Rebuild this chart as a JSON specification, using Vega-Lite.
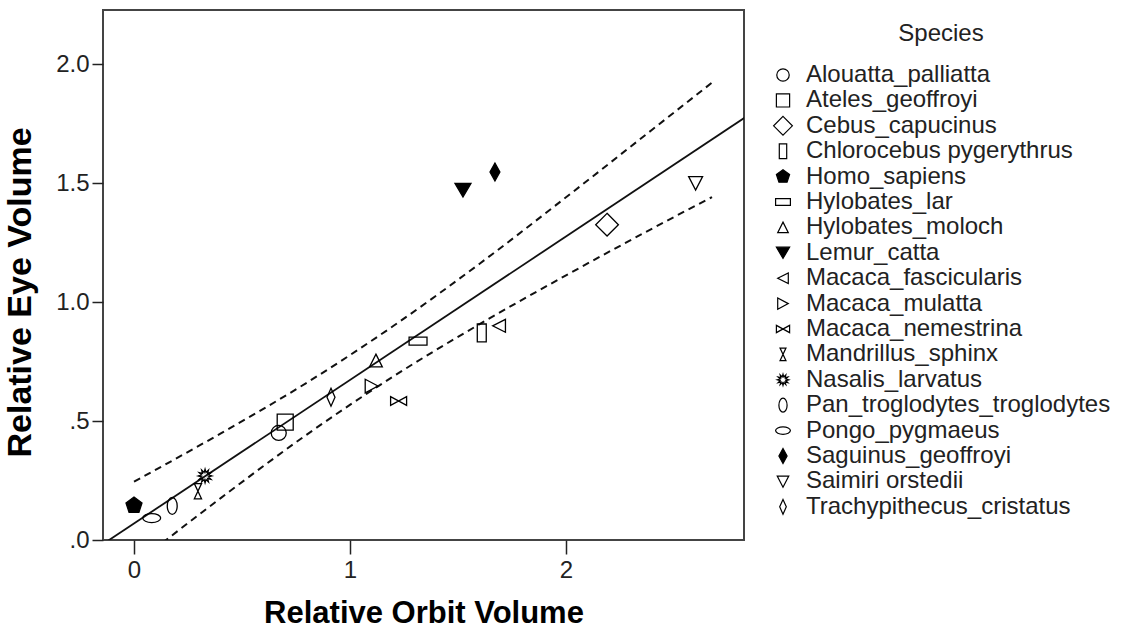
{
  "$schema": "https://vega.github.io/schema/vega-lite/v6.json",
  "autosize": "none",
  "padding": {"left": 103, "top": 10, "right": 388, "bottom": 104},
  "width": 641,
  "height": 530,
  "background": "white",
  "config": {
    "font": "Liberation Sans",
    "view": {"stroke": "#444", "strokeWidth": 2},
    "axis": {
      "grid": false,
      "domain": false,
      "tickColor": "#222",
      "tickWidth": 1.5,
      "labelFontSize": 24,
      "labelColor": "#222",
      "titleFontWeight": "bold",
      "titleColor": "#000"
    },
    "legend": {
      "orient": "none",
      "legendX": 668,
      "legendY": 12,
      "titleAnchor": "middle",
      "titleFontSize": 24,
      "titleFontWeight": "normal",
      "titleColor": "#222",
      "titlePadding": 17,
      "labelFontSize": 24,
      "labelColor": "#222",
      "labelOffset": 11,
      "labelLimit": 500,
      "rowPadding": 1.4,
      "symbolSize": 175,
      "symbolStrokeWidth": 1.2
    }
  },
  "layer": [
    {
      "data": {"values": [
        {"orbit": -0.15, "eye": -0.021},
        {"orbit": 2.83, "eye": 1.776}
      ]},
      "mark": {"type": "line", "color": "#111", "strokeWidth": 1.8, "clip": true},
      "encoding": {
        "x": {"field": "orbit", "type": "quantitative"},
        "y": {"field": "eye", "type": "quantitative"}
      }
    },
    {
      "data": {"values": [
        {"orbit": 0.0, "eye": 0.245},
        {"orbit": 0.4, "eye": 0.447},
        {"orbit": 0.8, "eye": 0.661},
        {"orbit": 1.2, "eye": 0.899},
        {"orbit": 1.6, "eye": 1.161},
        {"orbit": 2.0, "eye": 1.44},
        {"orbit": 2.4, "eye": 1.725},
        {"orbit": 2.676, "eye": 1.922}
      ]},
      "mark": {"type": "line", "color": "#111", "strokeWidth": 2, "strokeDash": [7, 5], "interpolate": "monotone", "clip": true},
      "encoding": {
        "x": {"field": "orbit", "type": "quantitative"},
        "y": {"field": "eye", "type": "quantitative"}
      }
    },
    {
      "data": {"values": [
        {"orbit": 0.0, "eye": -0.105},
        {"orbit": 0.4, "eye": 0.175},
        {"orbit": 0.8, "eye": 0.443},
        {"orbit": 1.2, "eye": 0.687},
        {"orbit": 1.6, "eye": 0.907},
        {"orbit": 2.0, "eye": 1.112},
        {"orbit": 2.4, "eye": 1.309},
        {"orbit": 2.676, "eye": 1.441}
      ]},
      "mark": {"type": "line", "color": "#111", "strokeWidth": 2, "strokeDash": [7, 5], "interpolate": "monotone", "clip": true},
      "encoding": {
        "x": {"field": "orbit", "type": "quantitative"},
        "y": {"field": "eye", "type": "quantitative"}
      }
    },
    {
      "data": {"values": [
        {"species": "Alouatta_palliatta", "orbit": 0.67, "eye": 0.45},
        {"species": "Ateles_geoffroyi", "orbit": 0.70, "eye": 0.495},
        {"species": "Cebus_capucinus", "orbit": 2.19, "eye": 1.325},
        {"species": "Chlorocebus pygerythrus", "orbit": 1.61, "eye": 0.87},
        {"species": "Homo_sapiens", "orbit": 0.0, "eye": 0.145},
        {"species": "Hylobates_lar", "orbit": 1.315, "eye": 0.836},
        {"species": "Hylobates_moloch", "orbit": 1.12, "eye": 0.754},
        {"species": "Lemur_catta", "orbit": 1.523, "eye": 1.47},
        {"species": "Macaca_fascicularis", "orbit": 1.69, "eye": 0.9},
        {"species": "Macaca_mulatta", "orbit": 1.1, "eye": 0.647},
        {"species": "Macaca_nemestrina", "orbit": 1.225, "eye": 0.584},
        {"species": "Mandrillus_sphinx", "orbit": 0.296, "eye": 0.205},
        {"species": "Nasalis_larvatus", "orbit": 0.329, "eye": 0.269},
        {"species": "Pan_troglodytes_troglodytes", "orbit": 0.177, "eye": 0.143},
        {"species": "Pongo_pygmaeus", "orbit": 0.082, "eye": 0.092},
        {"species": "Saguinus_geoffroyi", "orbit": 1.671, "eye": 1.546},
        {"species": "Saimiri orstedii", "orbit": 2.6, "eye": 1.5},
        {"species": "Trachypithecus_cristatus", "orbit": 0.912, "eye": 0.6}
      ]},
      "mark": {"type": "point", "filled": false, "size": 256, "strokeWidth": 1.3, "opacity": 1},
      "encoding": {
        "x": {
          "field": "orbit", "type": "quantitative",
          "scale": {"domain": [-0.1435, 2.824], "nice": false, "zero": false},
          "axis": {"values": [0, 1, 2], "format": "d", "title": "Relative Orbit Volume", "titleFontSize": 31, "tickSize": 14, "labelPadding": 4, "titleY": 58, "titleBaseline": "top"}
        },
        "y": {
          "field": "eye", "type": "quantitative",
          "scale": {"domain": [0, 2.227], "nice": false},
          "axis": {
            "values": [0, 0.5, 1, 1.5, 2],
            "labelExpr": "datum.value < 1 ? '.' + format(datum.value * 10, 'd') : format(datum.value, '.1f')",
            "tickSize": 11,
            "labelPadding": 3,
            "title": "Relative Eye Volume",
            "titleFontSize": 34,
            "titleX": -66,
            "titleY": 282
          }
        },
        "stroke": {
          "field": "species", "type": "nominal", "title": "Species",
          "scale": {
            "domain": ["Alouatta_palliatta", "Ateles_geoffroyi", "Cebus_capucinus", "Chlorocebus pygerythrus", "Homo_sapiens", "Hylobates_lar", "Hylobates_moloch", "Lemur_catta", "Macaca_fascicularis", "Macaca_mulatta", "Macaca_nemestrina", "Mandrillus_sphinx", "Nasalis_larvatus", "Pan_troglodytes_troglodytes", "Pongo_pygmaeus", "Saguinus_geoffroyi", "Saimiri orstedii", "Trachypithecus_cristatus"],
            "range": ["#000", "#000", "#000", "#000", "#000", "#000", "#000", "#000", "#000", "#000", "#000", "#000", "#000", "#000", "#000", "#000", "#000", "#000"]
          }
        },
        "shape": {
          "field": "species", "type": "nominal", "title": "Species",
          "scale": {
            "domain": ["Alouatta_palliatta", "Ateles_geoffroyi", "Cebus_capucinus", "Chlorocebus pygerythrus", "Homo_sapiens", "Hylobates_lar", "Hylobates_moloch", "Lemur_catta", "Macaca_fascicularis", "Macaca_mulatta", "Macaca_nemestrina", "Mandrillus_sphinx", "Nasalis_larvatus", "Pan_troglodytes_troglodytes", "Pongo_pygmaeus", "Saguinus_geoffroyi", "Saimiri orstedii", "Trachypithecus_cristatus"],
            "range": [
              "M -0.94 0 A 0.94 0.94 0 1 0 0.94 0 A 0.94 0.94 0 1 0 -0.94 0 Z",
              "M -1 -1 L 1 -1 L 1 1 L -1 1 Z",
              "M 0 -1.42 L 1.42 0 L 0 1.42 L -1.42 0 Z",
              "M -0.56 -1.12 L 0.56 -1.12 L 0.56 1.12 L -0.56 1.12 Z",
              "M 0 -1.05 L 1 -0.324 L 0.617 0.849 L -0.617 0.849 L -1 -0.324 Z",
              "M -1.12 -0.5 L 1.12 -0.5 L 1.12 0.5 L -1.12 0.5 Z",
              "M 0 -0.8 L 0.8 0.8 L -0.8 0.8 Z",
              "M -1 -0.85 L 1 -0.85 L 0 0.85 Z",
              "M -0.8 0 L 0.8 -0.8 L 0.8 0.8 Z",
              "M 0.8 0 L -0.8 -0.85 L -0.8 0.85 Z",
              "M -1 -0.55 L 1 0.55 L 1 -0.55 L -1 0.55 Z",
              "M -0.45 -0.95 L 0.45 -0.95 L -0.45 0.95 L 0.45 0.95 Z",
              "M 0.85 0 L 0.435 0.117 L 0.736 0.425 L 0.318 0.318 L 0.425 0.736 L 0.117 0.435 L 0 0.85 L -0.117 0.435 L -0.425 0.736 L -0.318 0.318 L -0.736 0.425 L -0.435 0.117 L -0.85 0 L -0.435 -0.117 L -0.736 -0.425 L -0.318 -0.318 L -0.425 -0.736 L -0.117 -0.435 L 0 -0.85 L 0.117 -0.435 L 0.425 -0.736 L 0.318 -0.318 L 0.736 -0.425 L 0.435 -0.117 Z",
              "M -0.62 0 A 0.62 1.06 0 1 0 0.62 0 A 0.62 1.06 0 1 0 -0.62 0 Z",
              "M -1.12 0 A 1.12 0.56 0 1 0 1.12 0 A 1.12 0.56 0 1 0 -1.12 0 Z",
              "M 0 -1.12 L 0.62 0 L 0 1.12 L -0.62 0 Z",
              "M -0.87 -0.8 L 0.87 -0.8 L 0 0.87 Z",
              "M 0 -1.12 L 0.5 0 L 0 1.12 L -0.5 0 Z"
            ]
          }
        },
        "fill": {
          "field": "species", "type": "nominal", "title": "Species",
          "scale": {
            "domain": ["Alouatta_palliatta", "Ateles_geoffroyi", "Cebus_capucinus", "Chlorocebus pygerythrus", "Homo_sapiens", "Hylobates_lar", "Hylobates_moloch", "Lemur_catta", "Macaca_fascicularis", "Macaca_mulatta", "Macaca_nemestrina", "Mandrillus_sphinx", "Nasalis_larvatus", "Pan_troglodytes_troglodytes", "Pongo_pygmaeus", "Saguinus_geoffroyi", "Saimiri orstedii", "Trachypithecus_cristatus"],
            "range": ["transparent", "transparent", "transparent", "transparent", "#000", "transparent", "transparent", "#000", "transparent", "transparent", "transparent", "transparent", "transparent", "transparent", "transparent", "#000", "transparent", "transparent"]
          }
        }
      }
    }
  ]
}
